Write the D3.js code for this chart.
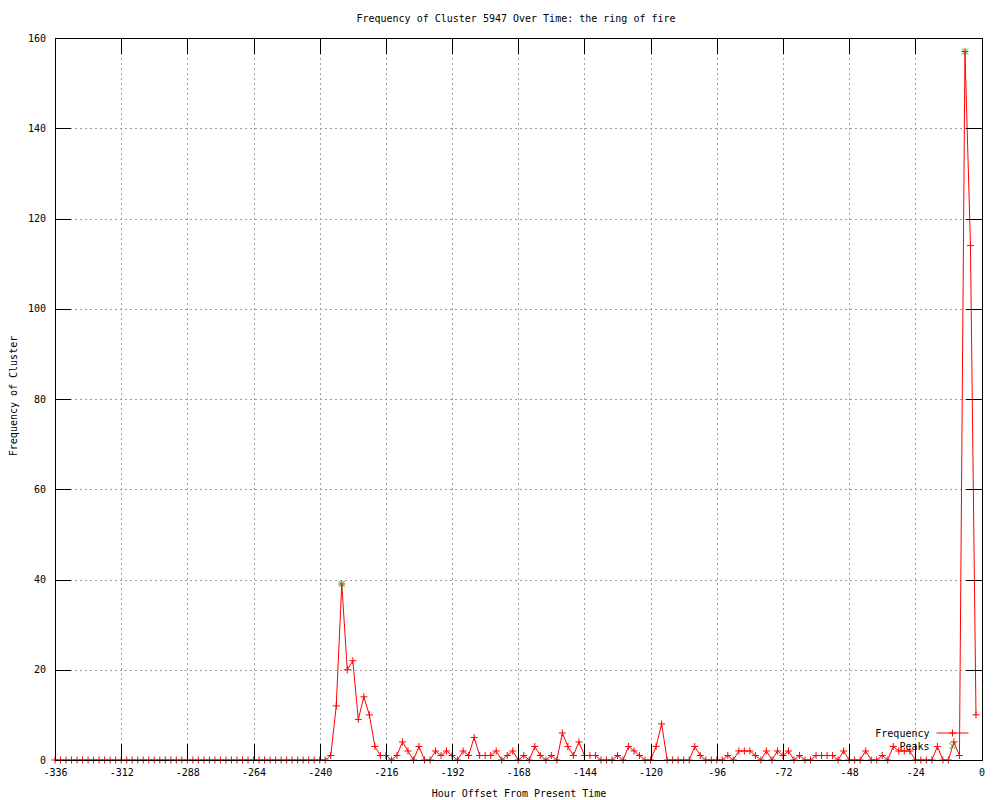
<!DOCTYPE html>
<html>
<head>
<meta charset="utf-8">
<script src="https://cdn.jsdelivr.net/npm/d3@7"></script>
<style>
  body { margin: 0; background: #fff; }
  svg text { font-family: "DejaVu Sans Mono", "Liberation Mono", monospace; font-size: 10px; fill: #000; }
</style>
</head>
<body>
<div id="chart"></div>
<script>
// hour offsets: one sample every 2 hours, -336 .. -2
const hours = d3.range(-336, 0, 2)

// cluster frequency, one value per hour offset above
const zerosBefore = [
  0, 0, 0, 0, 0, 0, 0, 0, 0, 0,
  0, 0, 0, 0, 0, 0, 0, 0, 0, 0,
  0, 0, 0, 0, 0, 0, 0, 0, 0, 0,
  0, 0, 0, 0, 0, 0, 0, 0, 0, 0,
  0, 0, 0, 0, 0, 0, 0, 0, 0, 0
]
const activity = [
  1, 12, 39, 20, 22, 9, 14, 10, 3, 1, // -236 .. -218
  1, 0, 1, 4, 2, 0, 3, 0, 0, 2, // -216 .. -198
  1, 2, 1, 0, 2, 1, 5, 1, 1, 1, // -196 .. -178
  2, 0, 1, 2, 0, 1, 0, 3, 1, 0, // -176 .. -158
  1, 0, 6, 3, 1, 4, 1, 1, 1, 0, // -156 .. -138
  0, 0, 1, 0, 3, 2, 1, 0, 0, 3, // -136 .. -118
  8, 0, 0, 0, 0, 0, 3, 1, 0, 0, // -116 .. -98
  0, 0, 1, 0, 2, 2, 2, 1, 0, 2, // -96 .. -78
  0, 2, 1, 2, 0, 1, 0, 0, 1, 1, // -76 .. -58
  1, 1, 0, 2, 0, 0, 0, 2, 0, 0, // -56 .. -38
  1, 0, 3, 2, 2, 2, 0, 0, 0, 0, // -36 .. -18
  3, 0, 0, 4, 1, 157, 114, 10 // -16 .. -2
]
const frequency = zerosBefore.concat(activity)

const peakHours = [-232, -6]
const peakValues = [39, 157]

const xTicks = [-336, -312, -288, -264, -240, -216, -192, -168, -144, -120, -96, -72, -48, -24, 0]
const yTicks = [0, 20, 40, 60, 80, 100, 120, 140, 160]

const margin = { top: 38, left: 55, right: 18.5, bottom: 40 }
const width = 1000 - margin.left - margin.right
const height = 800 - margin.top - margin.bottom

const svg = d3
  .select('#chart')
  .append('svg')
  .attr('width', 1000)
  .attr('height', 800)

const g = svg.append('g')
  .attr('transform', 'translate(' + margin.left + ',' + margin.top + ')')

const xScale = d3.scaleLinear().domain([-336, 0]).range([0, width])
const yScale = d3.scaleLinear().domain([0, 160]).range([height, 0])

const fmt = d => String(d)
const tick = 16

// grid
g.append('g')
  .attr('class', 'grid')
  .attr('transform', 'translate(0,' + height + ')')
  .call(d3.axisBottom(xScale).tickValues(xTicks).tickSize(-height).tickFormat(''))
g.append('g')
  .attr('class', 'grid')
  .call(d3.axisLeft(yScale).tickValues(yTicks).tickSize(-width).tickFormat(''))
g.selectAll('.grid .domain').remove()
g.selectAll('.grid line')
  .attr('stroke', '#a0a0a0')
  .attr('stroke-dasharray', '2,3')
  .attr('shape-rendering', 'crispEdges')

// frequency line
const line = d3.line()
  .x((d, i) => xScale(hours[i]))
  .y(d => yScale(d))

g.append('path')
  .datum(frequency)
  .attr('d', line)
  .attr('fill', 'none')
  .attr('stroke', '#ff0000')
  .attr('stroke-width', 1)

const plus = 'M-3.5,0H3.5M0,-3.5V3.5'
const cross = 'M-3,-3L3,3M-3,3L3,-3'

g.selectAll('.pt')
  .data(frequency)
  .enter()
  .append('path')
  .attr('class', 'pt')
  .attr('transform', (d, i) => 'translate(' + xScale(hours[i]) + ',' + yScale(d) + ')')
  .attr('d', plus)
  .attr('stroke', '#ff0000')
  .attr('stroke-width', 1)

// peaks
g.selectAll('.peak')
  .data(peakValues)
  .enter()
  .append('path')
  .attr('class', 'peak')
  .attr('transform', (d, i) => 'translate(' + xScale(peakHours[i]) + ',' + yScale(d) + ')')
  .attr('d', cross)
  .attr('stroke', '#00c000')
  .attr('stroke-width', 1)

// axes with inward ticks, mirrored on top and right
const axes = [
  g.append('g').attr('transform', 'translate(0,' + height + ')')
    .call(d3.axisBottom(xScale).tickValues(xTicks).tickSizeInner(-tick).tickSizeOuter(0).tickPadding(9).tickFormat(fmt)),
  g.append('g')
    .call(d3.axisTop(xScale).tickValues(xTicks).tickSizeInner(-tick).tickSizeOuter(0).tickFormat('')),
  g.append('g')
    .call(d3.axisLeft(yScale).tickValues(yTicks).tickSizeInner(-tick).tickSizeOuter(0).tickPadding(9).tickFormat(fmt)),
  g.append('g').attr('transform', 'translate(' + width + ',0)')
    .call(d3.axisRight(yScale).tickValues(yTicks).tickSizeInner(-tick).tickSizeOuter(0).tickFormat(''))
]
axes.forEach(a => {
  a.selectAll('line').attr('stroke', '#000').attr('shape-rendering', 'crispEdges')
  a.select('.domain').attr('stroke', '#000').attr('shape-rendering', 'crispEdges')
  a.selectAll('text').attr('font-family', null).attr('font-size', null)
})

// legend
const legend = g.append('g')
  .attr('transform', 'translate(' + (width - 45) + ',' + (height - 27) + ')')
legend.append('text')
  .attr('x', -7)
  .attr('y', 0)
  .attr('dy', '0.35em')
  .attr('text-anchor', 'end')
  .text('Frequency')
legend.append('line')
  .attr('x1', 0).attr('x2', 32).attr('y1', 0).attr('y2', 0)
  .attr('stroke', '#ff0000')
legend.append('path')
  .attr('transform', 'translate(16,0)')
  .attr('d', plus)
  .attr('stroke', '#ff0000')
legend.append('text')
  .attr('x', -7)
  .attr('y', 13)
  .attr('dy', '0.35em')
  .attr('text-anchor', 'end')
  .text('Peaks')
legend.append('path')
  .attr('transform', 'translate(16,13)')
  .attr('d', cross)
  .attr('stroke', '#00c000')

// titles
svg.append('text')
  .attr('x', 516)
  .attr('y', 22)
  .attr('text-anchor', 'middle')
  .text('Frequency of Cluster 5947 Over Time: the ring of fire')

svg.append('text')
  .attr('x', 519)
  .attr('y', 797)
  .attr('text-anchor', 'middle')
  .text('Hour Offset From Present Time')

svg.append('text')
  .attr('transform', 'translate(17,396) rotate(-90)')
  .attr('text-anchor', 'middle')
  .text('Frequency of Cluster')
</script>
</body>
</html>
